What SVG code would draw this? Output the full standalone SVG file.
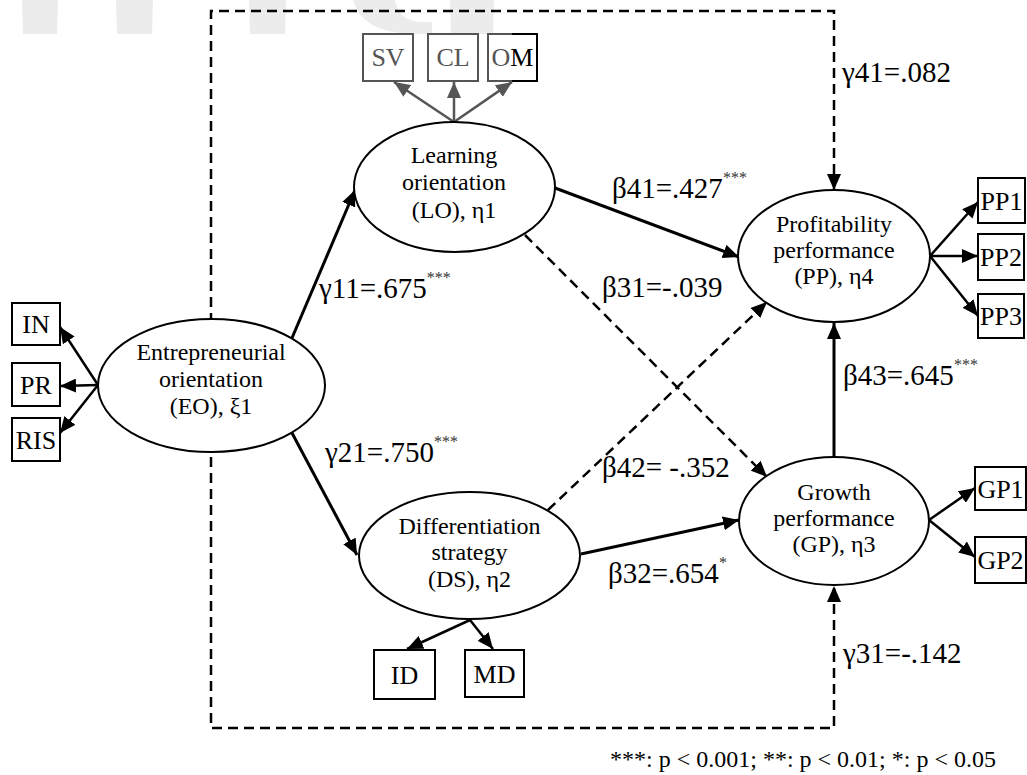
<svg xmlns="http://www.w3.org/2000/svg" width="1027" height="775" viewBox="0 0 1027 775">
<defs>
<style>
.t{font-family:"Liberation Serif","Times New Roman",serif;fill:#000}
.nt{font-size:24px;text-anchor:middle}
.bt{font-size:26px;text-anchor:middle}
.lb{font-size:29px}
.sup{font-size:16px;fill:#333}
.ell{fill:#fff;stroke:#000;stroke-width:2}
.box{fill:#fff;stroke:#000;stroke-width:2}
.gbox{fill:#fff;stroke:#555;stroke-width:2}
.sol{fill:none;stroke:#000;stroke-width:3}
.ind{fill:none;stroke:#000;stroke-width:2.5}
.gind{fill:none;stroke:#555;stroke-width:2.5}
.dsh{fill:none;stroke:#000;stroke-width:2.5;stroke-dasharray:10 6}
.wm{fill:#ececec}
</style>
<marker id="ah" markerUnits="userSpaceOnUse" markerWidth="16" markerHeight="14" refX="16" refY="7" orient="auto-start-reverse" viewBox="0 0 16 14">
<path d="M0,0 L16,7 L0,14 z" fill="#000"/>
</marker>
<marker id="ahg" markerUnits="userSpaceOnUse" markerWidth="16" markerHeight="14" refX="16" refY="7" orient="auto" viewBox="0 0 16 14">
<path d="M0,0 L16,7 L0,14 z" fill="#555"/>
</marker>
</defs>
<rect width="1027" height="775" fill="#fff"/>
<g id="watermark">
<path class="wm" d="M22,0 L58,0 L57,34 L23,34 z"/>
<path class="wm" d="M116,0 L153,0 L152,34 L117,34 z"/>
<path class="wm" d="M249,0 L286,0 L285,34 L250,34 z"/>
<path class="wm" d="M353,0 L395,0 Q398,20 420,22 L432,22 L432,34 L410,34 Q362,32 353,0 z"/>
<path class="wm" d="M450,0 L494,0 L493,34 L451,34 z"/>
</g>
<g id="connectors">
<path class="dsh" d="M834,190 L834,11 L211,11 L211,728 L834,728 L834,586" marker-start="url(#ah)" marker-end="url(#ah)"/>
<path class="sol" d="M292,338 L355,190" marker-end="url(#ah)"/>
<path class="sol" d="M292,433 L357,555" marker-end="url(#ah)"/>
<path class="sol" d="M555,188 L739,257" marker-end="url(#ah)"/>
<path class="dsh" d="M525,235 L767,477" marker-end="url(#ah)"/>
<path class="dsh" d="M548,510 L767,302" marker-end="url(#ah)"/>
<path class="sol" d="M581,554 L739,520" marker-end="url(#ah)"/>
<path class="sol" d="M834,457 L834,323" marker-end="url(#ah)"/>
<path class="ind" d="M98,385 L60,327" marker-end="url(#ah)"/>
<path class="ind" d="M98,385 L60,386" marker-end="url(#ah)"/>
<path class="ind" d="M98,385 L60,433" marker-end="url(#ah)"/>
<path class="gind" d="M454,122 L394,82" marker-end="url(#ahg)"/>
<path class="gind" d="M454,122 L454,82" marker-end="url(#ahg)"/>
<path class="gind" d="M454,122 L512,82" marker-end="url(#ahg)"/>
<path class="ind" d="M930,256 L978,202" marker-end="url(#ah)"/>
<path class="ind" d="M930,256 L978,256" marker-end="url(#ah)"/>
<path class="ind" d="M930,256 L978,316" marker-end="url(#ah)"/>
<path class="ind" d="M929,520 L975,488" marker-end="url(#ah)"/>
<path class="ind" d="M929,520 L975,557" marker-end="url(#ah)"/>
<path class="ind" d="M470,620 L407,649" marker-end="url(#ah)"/>
<path class="ind" d="M470,620 L493,649" marker-end="url(#ah)"/>
</g>
<g id="EO">
<ellipse class="ell" cx="211.5" cy="385.5" rx="113.5" ry="66.5"/>
<text class="t nt" x="211" y="360">Entrepreneurial</text>
<text class="t nt" x="211" y="387">orientation</text>
<text class="t nt" x="211" y="414">(EO), ξ1</text>
</g>
<g id="LO">
<ellipse class="ell" cx="454.5" cy="187" rx="100.5" ry="65"/>
<text class="t nt" x="454" y="163">Learning</text>
<text class="t nt" x="454" y="190">orientation</text>
<text class="t nt" x="454" y="218">(LO), η1</text>
</g>
<g id="DS">
<ellipse class="ell" cx="469.5" cy="555.5" rx="110.5" ry="63.5"/>
<text class="t nt" x="469.5" y="534">Differentiation</text>
<text class="t nt" x="469.5" y="560">strategy</text>
<text class="t nt" x="469.5" y="587">(DS), η2</text>
</g>
<g id="PP">
<ellipse class="ell" cx="834" cy="256" rx="96" ry="66"/>
<text class="t nt" x="834" y="232">Profitability</text>
<text class="t nt" x="834" y="258">performance</text>
<text class="t nt" x="834" y="284">(PP), η4</text>
</g>
<g id="GP">
<ellipse class="ell" cx="834" cy="521" rx="95" ry="64"/>
<text class="t nt" x="834" y="500">Growth</text>
<text class="t nt" x="834" y="526">performance</text>
<text class="t nt" x="834" y="552">(GP), η3</text>
</g>
<g id="IN"><rect class="box" x="12" y="303" width="48" height="42"/><text class="t bt" x="36" y="333">IN</text></g>
<g id="PR"><rect class="box" x="12" y="363" width="48" height="43"/><text class="t bt" x="36" y="394">PR</text></g>
<g id="RIS"><rect class="box" x="12" y="418" width="48" height="43"/><text class="t bt" x="36" y="449">RIS</text></g>
<g id="SV"><rect class="gbox" x="363" y="34" width="50" height="47"/><text class="t bt" x="388" y="66" style="fill:#555">SV</text></g>
<g id="CL"><rect class="gbox" x="428" y="34" width="50" height="47"/><text class="t bt" x="453" y="66" style="fill:#555">CL</text></g>
<g id="OM"><rect class="gbox" x="488" y="34" width="49" height="47"/><path d="M512,34 L537,34 L537,81 L512,81" fill="none" stroke="#000" stroke-width="2"/><text class="t bt" x="512.5" y="66"><tspan style="fill:#555">O</tspan>M</text></g>
<g id="PP1"><rect class="box" x="978" y="178" width="47" height="45"/><text class="t bt" x="1001.5" y="210">PP1</text></g>
<g id="PP2"><rect class="box" x="978" y="234" width="46" height="46"/><text class="t bt" x="1001" y="266">PP2</text></g>
<g id="PP3"><rect class="box" x="978" y="294" width="46" height="44"/><text class="t bt" x="1001" y="325">PP3</text></g>
<g id="GP1"><rect class="box" x="975" y="467" width="51" height="43"/><text class="t bt" x="1000.5" y="498">GP1</text></g>
<g id="GP2"><rect class="box" x="975" y="537" width="51" height="46"/><text class="t bt" x="1000.5" y="569">GP2</text></g>
<g id="ID"><rect class="box" x="374" y="650" width="61" height="49"/><text class="t bt" x="404.5" y="684">ID</text></g>
<g id="MD"><rect class="box" x="465" y="650" width="59" height="47"/><text class="t bt" x="494.5" y="683">MD</text></g>
<g id="labels">
<text class="t lb" x="842" y="82">γ41=.082</text>
<text class="t lb" x="612" y="198">β41=.427<tspan class="sup" dy="-15">***</tspan></text>
<text class="t lb" x="602" y="297">β31=-.039</text>
<text class="t lb" x="319" y="298">γ11=.675<tspan class="sup" dy="-15">***</tspan></text>
<text class="t lb" x="843" y="385">β43=.645<tspan class="sup" dy="-15">***</tspan></text>
<text class="t lb" x="325" y="462">γ21=.750<tspan class="sup" dy="-15">***</tspan></text>
<text class="t lb" x="602" y="477">β42= -.352</text>
<text class="t lb" x="608" y="583">β32=.654<tspan class="sup" dy="-15">*</tspan></text>
<text class="t lb" x="843" y="663">γ31=-.142</text>
<text class="t" x="996" y="767" style="font-size:24px;text-anchor:end">***: p &lt; 0.001; **: p &lt; 0.01; *: p &lt; 0.05</text>
</g>
</svg>
